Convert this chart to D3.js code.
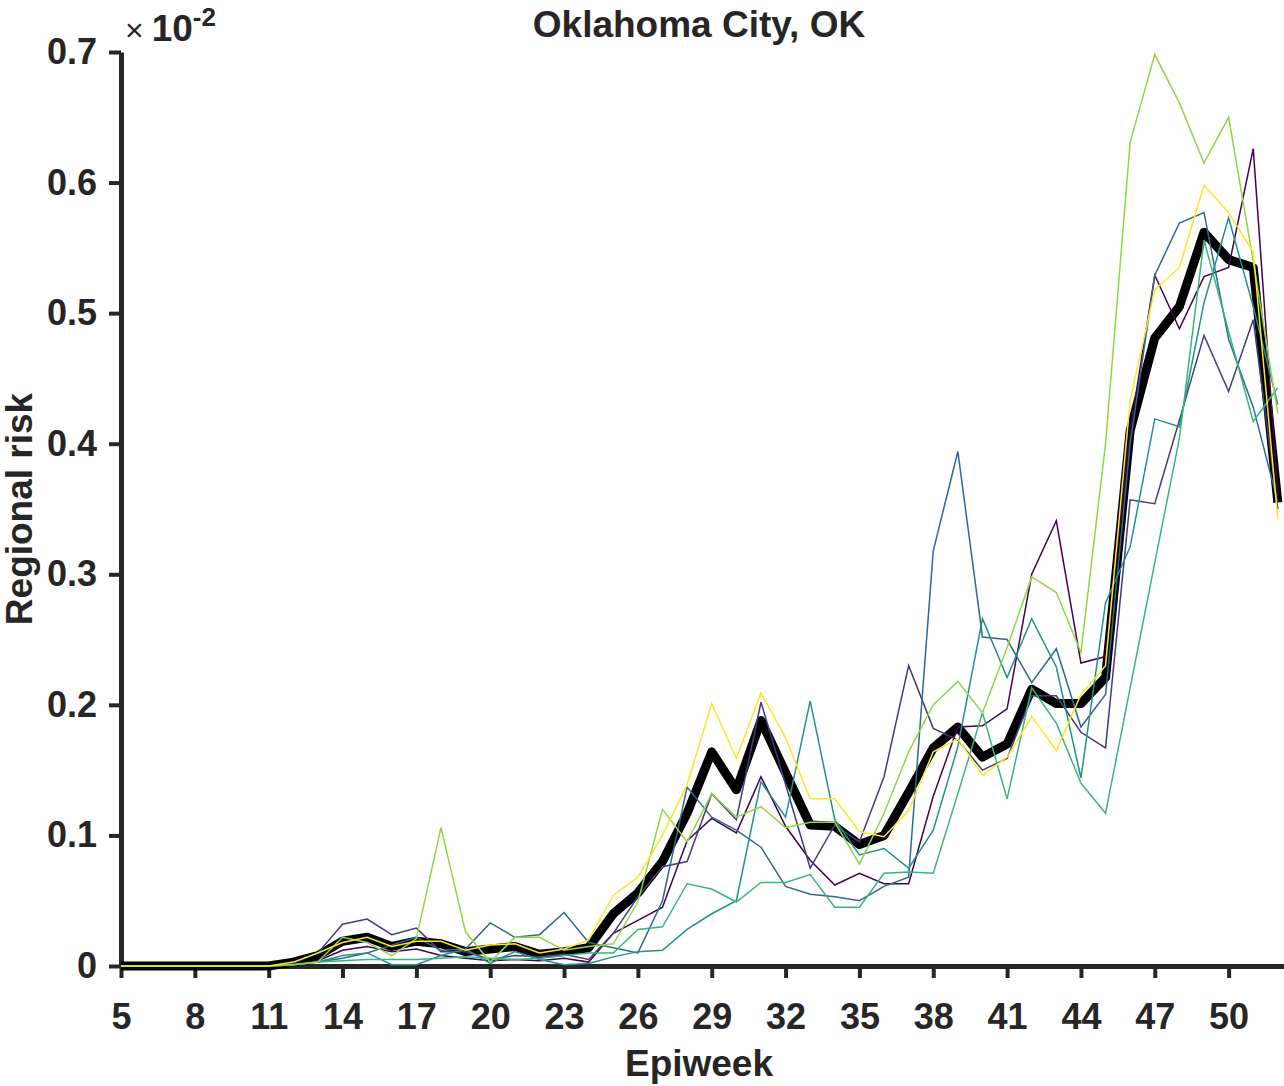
<!DOCTYPE html>
<html lang="en">
  <head>
    <meta charset="UTF-8" />
    <title>Oklahoma City, OK</title>
    <script src="https://cdn.jsdelivr.net/npm/d3@7"></script>
    <style>
      body { margin: 0; background: #fff; }
      text { font-family: "Liberation Sans", Arial, sans-serif; font-weight: bold; fill: #262626; }
    </style>
  </head>
  <body>
    <svg id="svg" width="1284" height="1086"></svg>
    <script>
      const epiweeks = [5, 6, 7, 8, 9, 10, 11, 12, 13, 14, 15, 16, 17, 18, 19, 20, 21, 22, 23, 24, 25, 26, 27, 28,
        29, 30, 31, 32, 33, 34, 35, 36, 37, 38, 39, 40, 41, 42, 43, 44, 45, 46, 47, 48, 49, 50, 51, 52];
      const xTicks = [5, 8, 11, 14, 17, 20, 23, 26, 29, 32, 35, 38, 41, 44, 47, 50];
      const yTicks = [0, 0.1, 0.2, 0.3, 0.4, 0.5, 0.6, 0.7];

      // regional risk, units of 1e-2, one value per epiweek
      const run1 = [0, 0, 0, 0, 0, 0, 0, 0.001, 0.004, 0.012, 0.015, 0.011, 0.013, 0.008, 0.006, 0.004, 0.005, 0.004, 0.006, 0.003,
        0.025, 0.035, 0.045, 0.096, 0.113, 0.102, 0.145, 0.107, 0.081, 0.062, 0.071, 0.063, 0.063, 0.130, 0.183, 0.184,
        0.197, 0.300, 0.341, 0.232, 0.237, 0.41, 0.529, 0.488, 0.528, 0.535, 0.626, 0.36];
      const run2 = [0, 0, 0, 0, 0, 0, 0, 0.002, 0.010, 0.032, 0.036, 0.024, 0.029, 0.011, 0.011, 0.005, 0.008, 0.007, 0.009, 0.005,
        0.025, 0.053, 0.076, 0.080, 0.132, 0.112, 0.202, 0.139, 0.075, 0.108, 0.095, 0.145, 0.230, 0.182, 0.173, 0.150,
        0.159, 0.207, 0.207, 0.179, 0.167, 0.357, 0.354, 0.418, 0.483, 0.44, 0.495, 0.35];
      const run3 = [0, 0, 0, 0, 0, 0, 0, 0.001, 0.003, 0.006, 0.010, 0.016, 0.022, 0.012, 0.013, 0.033, 0.022, 0.024, 0.041, 0.018,
        0.014, 0.010, 0.050, 0.137, 0.114, 0.104, 0.091, 0.061, 0.055, 0.053, 0.050, 0.061, 0.068, 0.318, 0.394, 0.252,
        0.250, 0.217, 0.243, 0.183, 0.208, 0.40, 0.529, 0.569, 0.577, 0.48, 0.428, 0.355];
      const run4 = [0, 0, 0, 0, 0, 0, 0, 0.001, 0.003, 0.008, 0.010, 0.001, 0.001, 0.008, 0.013, 0.002, 0.011, 0.005, 0.001, 0.002,
        0.007, 0.011, 0.012, 0.028, 0.040, 0.050, 0.141, 0.114, 0.203, 0.112, 0.085, 0.090, 0.075, 0.104, 0.168, 0.266,
        0.221, 0.266, 0.229, 0.144, 0.278, 0.321, 0.419, 0.413, 0.508, 0.573, 0.505, 0.43];
      const run5 = [0, 0, 0, 0, 0, 0, 0, 0.001, 0.003, 0.004, 0.005, 0.005, 0.005, 0.006, 0.007, 0.006, 0.005, 0.006, 0.008, 0.010,
        0.010, 0.028, 0.030, 0.063, 0.059, 0.049, 0.064, 0.064, 0.070, 0.045, 0.045, 0.071, 0.072, 0.071, 0.132, 0.194,
        0.128, 0.213, 0.186, 0.140, 0.117, 0.213, 0.309, 0.404, 0.556, 0.486, 0.417, 0.443];
      const run6 = [0, 0, 0, 0, 0, 0, 0, 0.001, 0.003, 0.022, 0.018, 0.008, 0.021, 0.106, 0.026, 0.003, 0.022, 0.022, 0.012, 0.015,
        0.017, 0.049, 0.120, 0.095, 0.132, 0.114, 0.122, 0.106, 0.110, 0.110, 0.078, 0.117, 0.164, 0.200, 0.218, 0.194,
        0.244, 0.298, 0.286, 0.240, 0.40, 0.631, 0.698, 0.661, 0.615, 0.650, 0.54, 0.423];
      const run7 = [0, 0, 0, 0, 0, 0, 0, 0.003, 0.010, 0.018, 0.022, 0.015, 0.019, 0.019, 0.012, 0.016, 0.017, 0.010, 0.013, 0.020,
        0.054, 0.068, 0.100, 0.139, 0.201, 0.159, 0.209, 0.175, 0.128, 0.128, 0.103, 0.099, 0.119, 0.164, 0.174, 0.146,
        0.160, 0.191, 0.165, 0.208, 0.230, 0.433, 0.518, 0.535, 0.598, 0.577, 0.547, 0.342];
      const meanRisk = [0, 0, 0, 0, 0, 0, 0, 0.003, 0.008, 0.019, 0.022, 0.015, 0.019, 0.017, 0.011, 0.013, 0.015, 0.009, 0.011, 0.014,
        0.040, 0.056, 0.080, 0.117, 0.164, 0.135, 0.188, 0.148, 0.108, 0.107, 0.093, 0.100, 0.133, 0.167, 0.183, 0.160,
        0.170, 0.212, 0.201, 0.201, 0.221, 0.41, 0.481, 0.505, 0.562, 0.541, 0.535, 0.355];

      const runs = [run1, run2, run3, run4, run5, run6, run7];
      const runColors = ["#440154", "#443983", "#31688e", "#21918c", "#35b779", "#90d743", "#fde725"];

      const plotLeft = 121, plotRight = 1284, plotTop = 52, plotBottom = 966;
      const axisColor = "#262626";

      const x = d3.scaleLinear().domain([5, 52.25]).range([plotLeft, plotRight]);
      const y = d3.scaleLinear().domain([0, 0.7]).range([plotBottom, plotTop]);

      const svg = d3.select("#svg");

      // axes (ticks point outward)
      const xAxis = svg.append("g")
        .attr("transform", `translate(0,${plotBottom})`)
        .call(d3.axisBottom(x).tickValues(xTicks).tickSize(12).tickPadding(25).tickSizeOuter(0));
      const yAxis = svg.append("g")
        .attr("transform", `translate(${plotLeft},0)`)
        .call(d3.axisLeft(y).tickValues(yTicks).tickSize(12).tickPadding(12).tickSizeOuter(0)
          .tickFormat(d => (d === 0 ? "0" : d3.format(".1f")(d))));

      [xAxis, yAxis].forEach(g => {
        g.select(".domain").attr("stroke", axisColor).attr("stroke-width", 5);
        g.selectAll(".tick line").attr("stroke", axisColor).attr("stroke-width", 4);
        g.selectAll(".tick text")
          .style("font-family", '"Liberation Sans", Arial, sans-serif')
          .style("font-weight", "bold")
          .style("font-size", "36px")
          .attr("fill", axisColor);
      });
      xAxis.selectAll(".tick text").attr("dy", "0.71em");

      const line = d3.line()
        .x((d, i) => x(epiweeks[i]))
        .y(d => y(d));

      svg.append("path")
        .datum(meanRisk)
        .attr("d", line)
        .attr("fill", "none")
        .attr("stroke", "#000")
        .attr("stroke-width", 9)
        .attr("stroke-linejoin", "round");

      svg.append("g")
        .selectAll("path")
        .data(runs)
        .enter()
        .append("path")
        .attr("d", line)
        .attr("fill", "none")
        .attr("stroke", (d, i) => runColors[i])
        .attr("stroke-width", 1.5);

      // labels
      svg.append("text")
        .attr("x", 699).attr("y", 37)
        .attr("text-anchor", "middle")
        .style("font-size", "37px")
        .attr("fill", "#000")
        .text("Oklahoma City, OK");

      svg.append("text")
        .attr("x", 699).attr("y", 1076)
        .attr("text-anchor", "middle")
        .style("font-size", "37px")
        .text("Epiweek");

      svg.append("text")
        .attr("transform", `translate(32,${(plotTop + plotBottom) / 2}) rotate(-90)`)
        .attr("text-anchor", "middle")
        .style("font-size", "37px")
        .text("Regional risk");

      const expo = svg.append("text").attr("x", 125).attr("y", 41);
      expo.append("tspan").style("font-size", "32px").style("font-weight", "normal").text("\u00d7");
      expo.append("tspan").attr("dx", 8).style("font-size", "37px").text("10");
      expo.append("tspan").attr("dy", -15).style("font-size", "26px").text("-2");
    </script>
  </body>
</html>
